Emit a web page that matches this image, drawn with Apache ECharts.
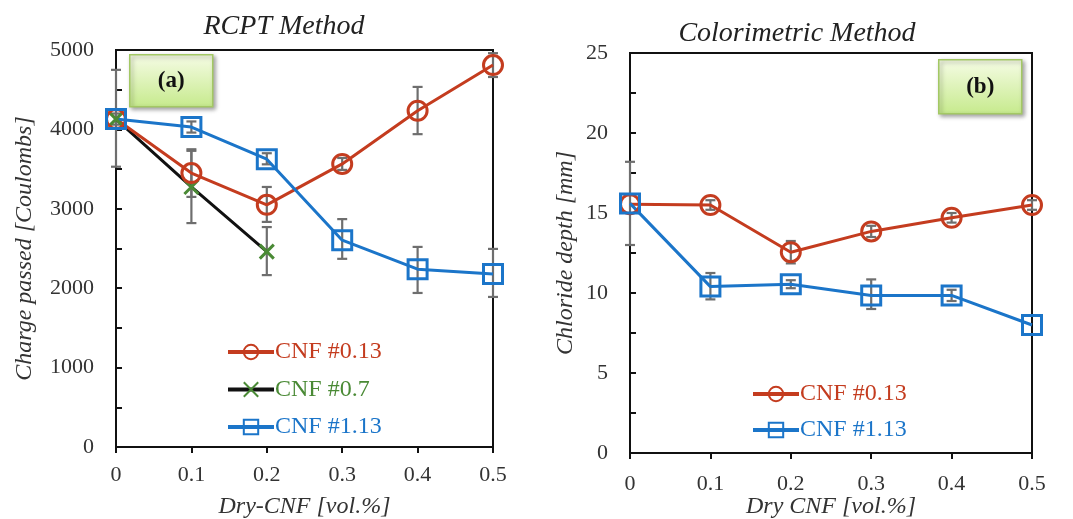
<!DOCTYPE html>
<html>
<head>
<meta charset="utf-8">
<script src="https://cdn.jsdelivr.net/npm/echarts@6/dist/echarts.min.js"></script>
<style>
  html, body { margin: 0; padding: 0; background: #fff; }
  #chart { width: 1073px; height: 519px; }
</style>
</head>
<body>
<div id="chart"></div>
<script>
// x positions (vol.%)
var xVals = [0, 0.1, 0.2, 0.3, 0.4, 0.5];

// (a) RCPT - charge passed [Coulombs]
var rcpt013 = [4130, 3450, 3050, 3565, 4235, 4810];
var rcpt07 = [4130, 3275, 2460];
var rcpt113 = [4130, 4030, 3625, 2605, 2240, 2180];
// error bars [low, high]
var rcpt013Err = [[3530, 4750], [3150, 3750], [2835, 3275], [3490, 3640], [3940, 4535], [4660, 4960]];
var rcpt07Err = [null, [2820, 3730], [2165, 2770]];
var rcpt113Err = [[4060, 4200], [3960, 4100], [3560, 3700], [2370, 2870], [1940, 2520], [1890, 2495]];

// (b) Colorimetric - chloride depth [mm]
var colo013 = [15.55, 15.5, 12.55, 13.85, 14.7, 15.5];
var colo113 = [15.6, 10.4, 10.55, 9.85, 9.85, 8.0];
var colo013Err = [[13.0, 18.2], [15.2, 15.8], [11.85, 13.25], [13.5, 14.2], [14.4, 15.0], [15.2, 15.8]];
var colo113Err = [null, [9.6, 11.25], [10.3, 10.8], [9.0, 10.85], [9.5, 10.2], null];

var RED = '#c43c1f';
var BLUE = '#1b75c9';
var GREEN = '#4a8a35';
var ERR = '#6e6e6e';
var FONT = '"Liberation Serif", "DejaVu Serif", serif';

var chart = echarts.init(document.getElementById('chart'), null, { renderer: 'canvas' });

let pairs = (ys) => ys.map((y, i) => [xVals[i], y]);
let errData = (errs) => errs.map((e, i) => e ? [xVals[i], e[0], e[1]] : null).filter(d => d);

let errSeries = (name, errs, gi) => ({
    name: name,
    type: 'custom',
    xAxisIndex: gi,
    yAxisIndex: gi,
    z: 1,
    silent: true,
    data: errData(errs),
    renderItem: function (params, api) {
        var lo = api.coord([api.value(0), api.value(1)]);
        var hi = api.coord([api.value(0), api.value(2)]);
        var w = 5;
        var st = { stroke: ERR, lineWidth: 2.2 };
        return {
            type: 'group',
            children: [
                { type: 'line', shape: { x1: lo[0], y1: lo[1], x2: hi[0], y2: hi[1] }, style: st },
                { type: 'line', shape: { x1: lo[0] - w, y1: lo[1], x2: lo[0] + w, y2: lo[1] }, style: st },
                { type: 'line', shape: { x1: hi[0] - w, y1: hi[1], x2: hi[0] + w, y2: hi[1] }, style: st }
            ]
        };
    }
});

let lineSeries = (name, ys, gi, color, symbol, size, markColor) => ({
    name: name,
    type: 'line',
    xAxisIndex: gi,
    yAxisIndex: gi,
    z: 3,
    data: pairs(ys),
    symbol: symbol,
    symbolSize: size,
    lineStyle: { color: color, width: 3 },
    itemStyle: { color: 'rgba(255,255,255,0)', borderColor: markColor || color, borderWidth: 3 },
    emphasis: { disabled: true }
});

let xAxisOpt = (gi, name, labelMargin, nameGap) => ({
    type: 'value',
    gridIndex: gi,
    min: 0,
    max: 0.5,
    interval: 0.1,
    name: name,
    nameLocation: 'middle',
    nameGap: nameGap,
    nameMoveOverlap: false,
    nameTextStyle: { fontFamily: FONT, fontStyle: 'italic', fontSize: 24, color: '#333' },
    axisLine: { onZero: false, lineStyle: { color: '#111', width: 2 } },
    axisTick: { show: true, inside: false, length: 6, lineStyle: { color: '#111', width: 2 } },
    axisLabel: { fontFamily: FONT, fontSize: 22, color: '#333', margin: labelMargin, formatter: v => String(+v.toFixed(1)) },
    splitLine: { show: false }
});

let yAxisOpt = (gi, name, max, interval, labelMargin, nameGap) => ({
    type: 'value',
    gridIndex: gi,
    min: 0,
    max: max,
    interval: interval,
    name: name,
    nameLocation: 'middle',
    nameGap: nameGap,
    nameMoveOverlap: false,
    nameTextStyle: { fontFamily: FONT, fontStyle: 'italic', fontSize: 24, color: '#333' },
    axisLine: { lineStyle: { color: '#111', width: 2 } },
    axisTick: { show: true, inside: true, length: 6, lineStyle: { color: '#111', width: 2 } },
    minorTick: { show: true, splitNumber: 2, length: 6, lineStyle: { color: '#111', width: 2 } },
    axisLabel: { fontFamily: FONT, fontSize: 22, color: '#333', margin: labelMargin, formatter: v => String(v) },
    splitLine: { show: false }
});

let tagBox = (x, y, w, h, label) => ({
    type: 'group',
    left: x,
    top: y,
    children: [
        {
            type: 'rect',
            shape: { x: 0, y: 0, width: w, height: h },
            style: {
                fill: new echarts.graphic.LinearGradient(0, 0, 0, 1, [
                    { offset: 0, color: '#f6fce6' },
                    { offset: 1, color: '#c6ea8c' }
                ]),
                stroke: '#a3c864',
                lineWidth: 1.5,
                shadowBlur: 4,
                shadowOffsetX: 2,
                shadowOffsetY: 2,
                shadowColor: 'rgba(0,0,0,0.35)'
            }
        },
        {
            type: 'text',
            x: w / 2,
            y: h / 2,
            style: { text: label, fontFamily: FONT, fontWeight: 'bold', fontSize: 23, fill: '#111', align: 'center', verticalAlign: 'middle' }
        }
    ]
});

var option = {
    backgroundColor: '#fff',
    animation: false,
    title: [
        { text: 'RCPT Method', left: 279, top: 8, textAlign: 'center',
          textStyle: { fontFamily: FONT, fontStyle: 'italic', fontWeight: 'normal', fontSize: 28, color: '#222' } },
        { text: 'Colorimetric Method', left: 792, top: 15, textAlign: 'center',
          textStyle: { fontFamily: FONT, fontStyle: 'italic', fontWeight: 'normal', fontSize: 28, color: '#222' } }
    ],
    grid: [
        { left: 116, top: 50, width: 377, height: 397, outerBoundsMode: 'none', containLabel: false,
          show: true, borderColor: '#111', borderWidth: 2, backgroundColor: 'transparent' },
        { left: 630, top: 53, width: 402, height: 400, outerBoundsMode: 'none', containLabel: false,
          show: true, borderColor: '#111', borderWidth: 2, backgroundColor: 'transparent' }
    ],
    xAxis: [
        xAxisOpt(0, 'Dry-CNF [vol.%]', 17, 48),
        xAxisOpt(1, 'Dry CNF [vol.%]', 20, 42)
    ],
    yAxis: [
        yAxisOpt(0, 'Charge passed [Coulombs]', 5000, 1000, 22, 79),
        yAxisOpt(1, 'Chloride depth [mm]', 25, 5, 22, 52)
    ],
    legend: [
        {
            left: 221, top: 335, orient: 'vertical', itemWidth: 46, itemHeight: 18, itemGap: 13.5,
            textStyle: { fontFamily: FONT, fontSize: 24, padding: [0, 0, 0, -4] },
            lineStyle: { width: 4 },
            selectedMode: false,
            data: [
                { name: 'CNF #0.13', textStyle: { color: RED } },
                { name: 'CNF #0.7', textStyle: { color: GREEN } },
                { name: 'CNF #1.13', textStyle: { color: BLUE } }
            ]
        },
        {
            left: 746, top: 377, orient: 'vertical', itemWidth: 46, itemHeight: 18, itemGap: 12,
            textStyle: { fontFamily: FONT, fontSize: 24, padding: [0, 0, 0, -4] },
            lineStyle: { width: 4 },
            selectedMode: false,
            data: [
                { name: 'CNF #0.13 ', textStyle: { color: RED } },
                { name: 'CNF #1.13 ', textStyle: { color: BLUE } }
            ]
        }
    ],
    series: [
        errSeries('e013a', rcpt013Err, 0),
        errSeries('e07a', rcpt07Err, 0),
        errSeries('e113a', rcpt113Err, 0),
        lineSeries('CNF #0.7', rcpt07, 0, '#111', 'path://M0,0L10,10M10,0L0,10', 14, GREEN),
        lineSeries('CNF #0.13', rcpt013, 0, RED, 'circle', 19),
        lineSeries('CNF #1.13', rcpt113, 0, BLUE, 'rect', 19),
        errSeries('e013b', colo013Err, 1),
        errSeries('e113b', colo113Err, 1),
        lineSeries('CNF #0.13 ', colo013, 1, RED, 'circle', 19),
        lineSeries('CNF #1.13 ', colo113, 1, BLUE, 'rect', 19)
    ],
    graphic: [
        tagBox(129, 54, 83, 52, '(a)'),
        tagBox(938, 59, 83, 54, '(b)')
    ]
};

chart.setOption(option);
window.addEventListener('resize', chart.resize);
</script>
</body>
</html>
